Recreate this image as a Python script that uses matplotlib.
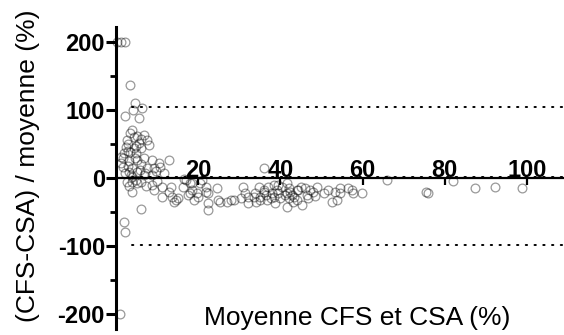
import matplotlib
matplotlib.use("Agg")
import matplotlib.pyplot as plt

# moyenne CFS/CSA (%) et difference relative (%)
mean_pts = [
    0.3, 1.2, 2.3, 0.9, 3.5,
    4.6, 2.2, 4.2, 5.7, 6.4,
    3.5, 4.3, 2.7, 6.7, 7.6, 8.0, 6.0, 4.3, 3.5, 4.8, 1.9, 1.6, 5.2, 6.7, 8.8,
    10.8, 12.8, 10.4, 9.2, 7.6, 4.0, 3.1, 5.2, 2.3, 1.6, 4.0, 6.7, 8.8, 11.6, 1.1, 1.1,
    3.0, 5.5, 2.5, 4.5, 3.2, 6.2, 5.8, 2.8, 7.0, 3.6, 9.8, 5.0, 3.9, 6.0, 4.8, 3.0,
    4.0, 5.2, 6.0, 2.7, 4.0, 8.8, 9.2, 11.3, 11.3, 12.8, 13.7, 14.0, 13.3, 6.0, 1.9, 2.3,
    14.5, 4.8, 7.2, 10.0, 3.2,
    15.2, 16.2, 17.0, 18.0, 18.6, 18.6, 19.8, 17.6, 18.0, 20.0, 19.0, 20.5, 21.8, 21.8,
    22.5, 22.5, 22.5, 24.6, 24.9, 25.4, 27.1, 27.9, 28.6, 30.3, 30.8, 31.5, 32.0, 32.2,
    33.5, 33.9, 34.0, 34.7, 35.1, 35.9, 35.9, 35.1, 36.8, 35.9, 16.5, 20.8,
    37.1, 37.6, 38.0, 38.4, 38.8, 39.2, 39.5, 39.5, 40.5, 41.2, 41.7, 41.7, 41.7, 42.0,
    42.4, 42.9, 43.2, 44.1, 44.1, 44.4, 44.9, 45.3, 46.0, 46.5, 47.3, 48.0, 49.0, 51.6,
    52.6, 53.3, 53.8, 54.6, 54.6, 56.5, 57.5, 57.7, 59.9, 43.0, 40.0, 46.8, 48.5, 50.5,
    36.5, 38.5, 42.0,
    66.0, 75.5, 75.8, 82.0, 87.3, 92.1, 98.9,
]
diff_pts = [
    200, 200, 200, -200, 137,
    110, 91, 100, 88, 103,
    66, 60, 56, 63, 56, 48, 44, 44, 38, 37, 37, 29, 26, 29, 26,
    16, 27, 22, 15, 15, 15, 9, 9, 7, 16, 2, 4, 4, 7, 31, 22,
    50, 52, 45, 30, 25, 20, 12, 18, 8, 4, 10, 62, 70, 57, 47, 40,
    -6, -8, -6, -6, -20, -10, -18, -13, -28, -20, -28, -35, -13, -46, -65, -79,
    -32, -3, -12, -5, -12,
    -29, -13, -3, -7, -8, -18, -22, -25, -22, -28, -32, -8, -13, -20,
    -22, -37, -47, -15, -32, -35, -35, -32, -32, -29, -13, -22, -37, -28,
    -28, -22, -35, -13, -28, -18, -20, -32, -32, 15, -2, -3,
    -13, -29, -22, -10, -37, -18, -10, -22, -13, -25, -8, -22, -43, -29,
    -20, -25, -28, -18, -32, -18, -13, -40, -15, -25, -18, -20, -13, -18,
    -35, -20, -32, -22, -15, -15, -18, -22, -22, -35, -30, -30, -26, -22,
    -25, -28, -15,
    -3, -20, -22, -5, -15, -13, -15,
]

bias = 2
upper_loa = 104
lower_loa = -99

plt.rcParams['font.family'] = ['Liberation Sans', 'DejaVu Sans']
plt.rcParams['axes.unicode_minus'] = False

fig = plt.figure(figsize=(5.64, 3.35), dpi=100)
ax = fig.add_axes([0.2057, 0.018, 0.7943, 0.9015])

ax.plot(mean_pts, diff_pts, 'o', ms=6.3, mfc='none', mec='black', mew=0.9,
        alpha=0.4, clip_on=False, zorder=3)

for yv in (upper_loa, bias, lower_loa):
    ax.plot([4, 109], [yv, yv], color='black', lw=1.4, ls=(0, (0.7, 3.8)),
            dash_capstyle='round', zorder=2)

ax.set_xlim(0, 109)
ax.set_ylim(-222, 222)

ax.spines['top'].set_visible(False)
ax.spines['right'].set_visible(False)
ax.spines['bottom'].set_position(('data', 0))
ax.spines['left'].set_linewidth(2.2)
ax.spines['bottom'].set_linewidth(1.6)

ax.set_yticks([-200, -100, 0, 100, 200])
ax.set_yticks([-150, -50, 50, 150], minor=True)
ax.set_xticks([20, 40, 60, 80, 100])
ax.tick_params(axis='y', which='major', length=7, width=2.2, pad=1,
               labelsize=17)
ax.tick_params(axis='y', which='minor', length=4, width=2.0)
ax.tick_params(axis='x', which='major', length=5, width=1.6, pad=-18.5,
               labelsize=17)
for lbl in ax.get_xticklabels() + ax.get_yticklabels():
    lbl.set_fontweight('bold')

fig.text(0.05, 0.504, '(CFS-CSA) / moyenne (%)', rotation=90,
         ha='center', va='center', fontsize=19)
fig.text(0.634, 0.051, 'Moyenne CFS et CSA (%)', ha='center', va='center',
         fontsize=19)

fig.savefig('out.png', dpi=100)
